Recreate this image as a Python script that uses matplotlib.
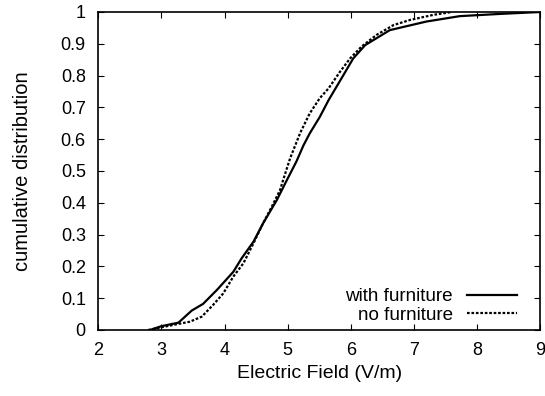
import matplotlib.pyplot as plt

# cumulative distribution of electric field
with_furniture_x = [2.82, 3.00, 3.27, 3.48, 3.66, 3.88, 4.14, 4.27, 4.46, 4.61,
                    4.83, 4.99, 5.14, 5.25, 5.35, 5.51, 5.65, 5.85, 6.04, 6.23,
                    6.62, 7.20, 7.73, 8.37, 9.00]
with_furniture_y = [0.0, 0.012, 0.023, 0.061, 0.082, 0.126, 0.183, 0.225, 0.278, 0.335,
                    0.409, 0.472, 0.530, 0.580, 0.618, 0.670, 0.723, 0.790, 0.854, 0.896,
                    0.943, 0.970, 0.987, 0.994, 1.0]

no_furniture_x = [2.79, 3.19, 3.45, 3.64, 3.82, 3.98, 4.14, 4.30, 4.46, 4.61,
                  4.75, 4.88, 4.93, 5.04, 5.20, 5.35, 5.51, 5.65, 5.83, 5.99,
                  6.17, 6.41, 6.68, 6.94, 7.31, 7.60]
no_furniture_y = [0.0, 0.016, 0.026, 0.042, 0.079, 0.115, 0.168, 0.210, 0.273, 0.335,
                  0.388, 0.440, 0.472, 0.540, 0.620, 0.681, 0.729, 0.760, 0.812, 0.854,
                  0.891, 0.928, 0.959, 0.975, 0.991, 1.0]

x_ticks = [2, 3, 4, 5, 6, 7, 8, 9]
y_ticks = [0, 0.1, 0.2, 0.3, 0.4, 0.5, 0.6, 0.7, 0.8, 0.9, 1]

plt.rcParams["font.family"] = ["Liberation Sans", "DejaVu Sans"]
plt.rcParams["font.size"] = 13

fig = plt.figure(figsize=(5.45, 3.96), dpi=100)
ax = fig.add_axes([0.1804, 0.1667, 0.8104, 0.803])

ax.plot(with_furniture_x, with_furniture_y, color="black", lw=1.6,
        label="with furniture")
ax.plot(no_furniture_x, no_furniture_y, color="black", lw=1.6,
        linestyle=(0, (1.2, 0.8)), label="no furniture")

ax.set_xlim(2, 9)
ax.set_ylim(0, 1)
ax.set_xticks(x_ticks)
ax.set_xticklabels([str(t) for t in x_ticks])
ax.set_yticks(y_ticks)
ax.set_yticklabels([f"{t:g}" for t in y_ticks])
ax.tick_params(axis="x", direction="in", top=True, length=4, width=0.8, pad=9)
ax.tick_params(axis="y", direction="in", right=True, length=4, width=0.8, pad=9)
for spine in ax.spines.values():
    spine.set_linewidth(1.2)

ax.set_xlabel("Electric Field (V/m)", fontsize=14, labelpad=4)
ax.set_ylabel("cumulative distribution", fontsize=14.5, labelpad=21)

ax.legend(loc="lower right", bbox_to_anchor=(0.948, 0.02), frameon=False,
          markerfirst=False, handlelength=2.65, handletextpad=0.75,
          labelspacing=0.05, borderpad=0, borderaxespad=0,
          prop={"size": 13.6})

fig.savefig("out.png", dpi=100)
